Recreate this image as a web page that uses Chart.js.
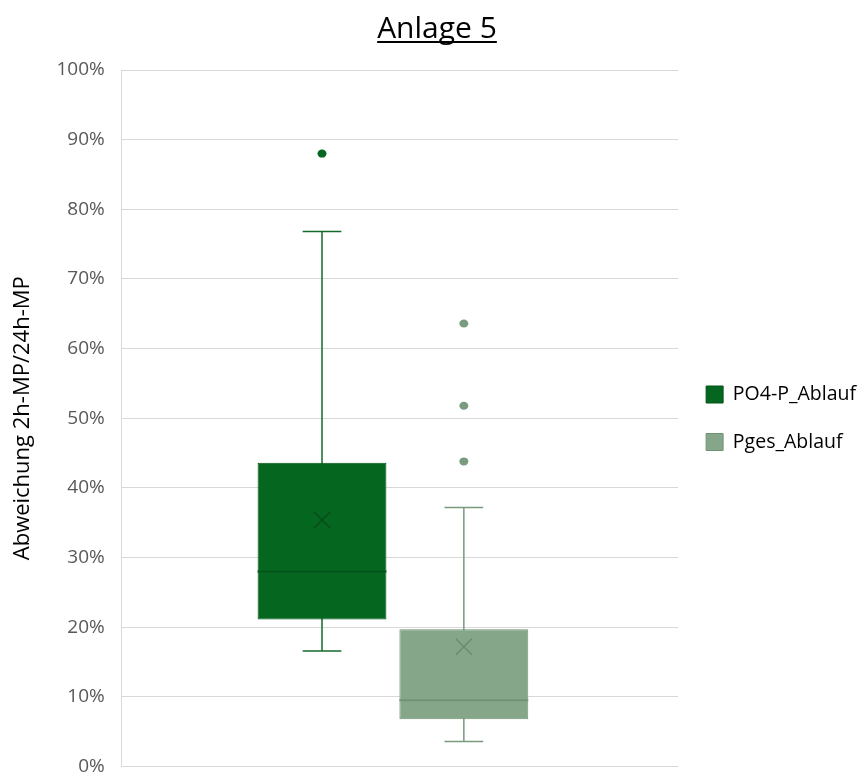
<!DOCTYPE html>
<html>
<head>
<meta charset="utf-8">
<title>Anlage 5</title>
<script src="https://cdn.jsdelivr.net/npm/chart.js@4.4.1/dist/chart.umd.min.js"></script>
<style>
    html, body { margin: 0; padding: 0; background: #ffffff; }
    #wrap { width: 867px; height: 776px; }
</style>
</head>
<body>
<div id="wrap"><canvas id="chart"></canvas></div>
<script>
// box plot statistics per series (fractions, shown as percent)
const seriesNames = ['PO4-P_Ablauf', 'Pges_Ablauf'];
const whiskerMin = [0.166, 0.036];
const quartile1 = [0.211, 0.068];
const medians = [0.280, 0.095];
const quartile3 = [0.436, 0.197];
const whiskerMax = [0.768, 0.372];
const means = [0.354, 0.172];
const outliers = [[0.880], [0.438, 0.518, 0.636]];

const fills = ['#05661f', '#86a689'];
const borders = ['#035418', '#6f9373'];
const whiskerColors = ['#16692a', '#779b7b'];
const markColors = ['#0b4a1a', '#6a8d6e'];
const pointColors = ['#05661f', '#7a9b7e'];
// per-series slot sizing inside the single category
const slotPercent = [0.56, 0.4596];
const boxPercent = [0.827, 1.008];

Chart.defaults.font.family = "'Open Sans', sans-serif";

// whiskers behind the boxes, median/mean/outliers on top
const boxExtras = {
    id: 'boxExtras',
    beforeDatasetsDraw(chart) {
        const ctx = chart.ctx;
        const y = chart.scales.y;
        seriesNames.forEach((name, i) => {
            const bar = chart.getDatasetMeta(i).data[0];
            const cap = bar.width * 0.15;
            const top = y.getPixelForValue(whiskerMax[i]);
            const bottom = y.getPixelForValue(whiskerMin[i]);
            ctx.save();
            ctx.strokeStyle = whiskerColors[i];
            ctx.lineWidth = 1.5;
            ctx.beginPath();
            ctx.moveTo(bar.x, top);
            ctx.lineTo(bar.x, bottom);
            ctx.moveTo(bar.x - cap, top);
            ctx.lineTo(bar.x + cap, top);
            ctx.moveTo(bar.x - cap, bottom);
            ctx.lineTo(bar.x + cap, bottom);
            ctx.stroke();
            ctx.restore();
        });
    },
    afterDatasetsDraw(chart) {
        const ctx = chart.ctx;
        const y = chart.scales.y;
        seriesNames.forEach((name, i) => {
            const bar = chart.getDatasetMeta(i).data[0];
            const half = bar.width / 2;
            ctx.save();

            const med = y.getPixelForValue(medians[i]);
            ctx.strokeStyle = borders[i];
            ctx.lineWidth = 2;
            ctx.beginPath();
            ctx.moveTo(bar.x - half, med);
            ctx.lineTo(bar.x + half, med);
            ctx.stroke();

            const my = y.getPixelForValue(means[i]);
            const s = 8;
            ctx.strokeStyle = markColors[i];
            ctx.lineWidth = 1.5;
            ctx.beginPath();
            ctx.moveTo(bar.x - s, my - s);
            ctx.lineTo(bar.x + s, my + s);
            ctx.moveTo(bar.x + s, my - s);
            ctx.lineTo(bar.x - s, my + s);
            ctx.stroke();

            ctx.fillStyle = pointColors[i];
            outliers[i].forEach(v => {
                ctx.beginPath();
                ctx.ellipse(bar.x, y.getPixelForValue(v), 4.5, 4, 0, 0, Math.PI * 2);
                ctx.fill();
            });
            ctx.restore();
        });
    },
    afterDraw(chart) {
        // underline the chart title
        const tb = chart.titleBlock;
        const opts = chart.options.plugins.title;
        const ctx = chart.ctx;
        ctx.save();
        ctx.font = '30px ' + Chart.defaults.font.family;
        const w = ctx.measureText(opts.text).width;
        const cx = (tb.left + tb.right) / 2;
        const cy = tb.top + opts.padding.top + 18 + 13;
        ctx.strokeStyle = '#000000';
        ctx.lineWidth = 2;
        ctx.beginPath();
        ctx.moveTo(cx - w / 2, cy);
        ctx.lineTo(cx + w / 2, cy);
        ctx.stroke();
        ctx.restore();
    }
};

const datasets = seriesNames.map((name, i) => ({
    label: name,
    data: [[quartile1[i], quartile3[i]]],
    backgroundColor: fills[i],
    borderColor: borders[i],
    borderWidth: 1,
    borderSkipped: false,
    categoryPercentage: slotPercent[i],
    barPercentage: boxPercent[i]
}));

new Chart(document.getElementById('chart'), {
    type: 'bar',
    data: {
        labels: [''],
        datasets: datasets
    },
    options: {
        responsive: true,
        maintainAspectRatio: false,
        animation: false,
        layout: { padding: { left: 8, right: 1, top: 0, bottom: 0 } },
        scales: {
            x: { display: false },
            y: {
                min: 0,
                max: 1,
                grid: {
                    color: '#d9d9d9',
                    drawTicks: true,
                    tickLength: 17,
                    tickColor: 'rgba(0,0,0,0)'
                },
                border: { display: true, color: '#d9d9d9' },
                ticks: {
                    stepSize: 0.1,
                    padding: 0,
                    color: '#595959',
                    font: { size: 19, lineHeight: 1 },
                    callback: v => Math.round(v * 100) + '%'
                },
                title: {
                    display: true,
                    text: 'Abweichung 2h-MP/24h-MP',
                    color: '#000000',
                    font: { size: 22 },
                    padding: { top: 2, bottom: 20 }
                }
            }
        },
        plugins: {
            tooltip: { enabled: false },
            title: {
                display: true,
                text: 'Anlage 5',
                color: '#000000',
                font: { size: 30, weight: 'normal', lineHeight: 1.2 },
                padding: { top: 11, bottom: 23 }
            },
            legend: {
                position: 'right',
                fullSize: false,
                labels: {
                    color: '#000000',
                    boxWidth: 17,
                    boxHeight: 17,
                    padding: 28,
                    font: { size: 19.5 }
                }
            }
        }
    },
    plugins: [boxExtras]
});
</script>
</body>
</html>
